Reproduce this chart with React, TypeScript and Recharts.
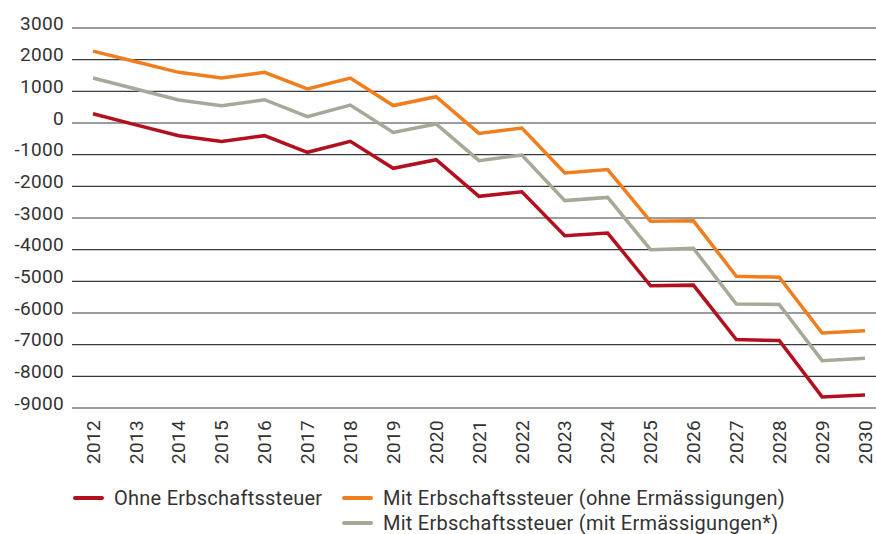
import { LineChart, Line, XAxis, YAxis, CartesianGrid } from 'recharts'

const years = [
  '2012', '2013', '2014', '2015', '2016', '2017', '2018', '2019', '2020', '2021',
  '2022', '2023', '2024', '2025', '2026', '2027', '2028', '2029', '2030',
]

const ohne = [
  290, -60, -400, -580, -400, -925, -580, -1430, -1160, -2315,
  -2170, -3560, -3475, -5140, -5120, -6840, -6870, -8650, -8590,
]

const mitOhneErm = [
  2270, 1935, 1600, 1420, 1600, 1075, 1420, 550, 830, -330,
  -160, -1580, -1470, -3105, -3090, -4840, -4870, -6630, -6560,
]

const mitErm = [
  1420, 1075, 725, 545, 735, 200, 565, -300, -30, -1190,
  -1010, -2450, -2350, -4000, -3960, -5715, -5730, -7505, -7430,
]

const yTicks = [3000, 2000, 1000, 0, -1000, -2000, -3000, -4000, -5000, -6000, -7000, -8000, -9000]

const data = years.map((y, i) => ({
  year: y,
  ohne: ohne[i],
  mitOhneErm: mitOhneErm[i],
  mitErm: mitErm[i],
}))

const FONT = 'Roboto, "DejaVu Sans", sans-serif'
const TEXT = '#333333'
const RED = '#B3101F'
const ORANGE = '#F07D1E'
const GRAY = '#A8A899'

const YTick = ({ x, y, payload }: any) => (
  <text x={x} y={y - 5} dy="0.35em" textAnchor="end" fill={TEXT} fontSize={19} letterSpacing={0.3} fontFamily={FONT}>
    {payload.value}
  </text>
)

const XTick = ({ x, y, payload }: any) => (
  <g transform={`translate(${x},${y + 4})`}>
    <text transform="rotate(-90)" textAnchor="end" dy="0.35em" fill={TEXT} fontSize={19} letterSpacing={0.3} fontFamily={FONT}>
      {payload.value}
    </text>
  </g>
)

const legendItems = [
  { name: 'Ohne Erbschaftssteuer', color: RED, left: 73, top: 498 },
  { name: 'Mit Erbschaftssteuer (ohne Ermässigungen)', color: ORANGE, left: 342, top: 498 },
  { name: 'Mit Erbschaftssteuer (mit Ermässigungen*)', color: GRAY, left: 342, top: 523 },
]

export default function App() {
  return (
    <div style={{ position: 'absolute', left: 0, top: 0, width: 876, height: 534, background: '#fff' }}>
      <LineChart width={876} height={534} data={data} margin={{ top: 28, right: 0, bottom: 0, left: 0 }}>
        <CartesianGrid horizontal vertical={false} stroke="#3a3a3a" strokeWidth={1.2} />
        <XAxis
          dataKey="year"
          interval={0}
          padding={{ left: 21, right: 11 }}
          axisLine={false}
          tickLine={false}
          tick={<XTick />}
          height={126}
        />
        <YAxis
          type="number"
          domain={[-9000, 3000]}
          ticks={yTicks}
          interval={0}
          width={72}
          axisLine={false}
          tickLine={false}
          tick={<YTick />}
        />
        <Line type="linear" dataKey="mitOhneErm" stroke={ORANGE} strokeWidth={3.5} dot={false} isAnimationActive={false} />
        <Line type="linear" dataKey="mitErm" stroke={GRAY} strokeWidth={3.5} dot={false} isAnimationActive={false} />
        <Line type="linear" dataKey="ohne" stroke={RED} strokeWidth={3.5} dot={false} isAnimationActive={false} />
      </LineChart>
      {legendItems.map((it) => (
        <div
          key={it.name}
          style={{
            position: 'absolute',
            left: it.left,
            top: it.top - 12,
            height: 24,
            display: 'flex',
            alignItems: 'center',
            fontFamily: FONT,
            fontSize: 20,
            letterSpacing: 0.25,
            color: TEXT,
            whiteSpace: 'nowrap',
          }}
        >
          <span style={{ display: 'inline-block', width: 31, height: 4, background: it.color, borderRadius: 2, marginRight: 10 }} />
          {it.name}
        </div>
      ))}
    </div>
  )
}
